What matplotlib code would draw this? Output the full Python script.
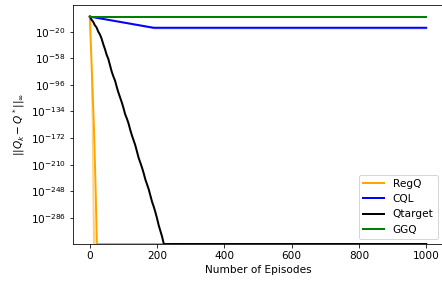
import numpy as np
import matplotlib
matplotlib.use("Agg")
import matplotlib.pyplot as plt

# log10 of ||Q_k - Q*||_inf
floor_exp = -323.3  # smallest positive double, where the curves bottom out

regq_eps = [0, 4, 8, 12, 15, 17, 21, 1000]
regq_mean = [1.4, -50, -102, -154, -205, -240, floor_exp, floor_exp]
regq_lo = [1.4, -150, floor_exp, floor_exp, floor_exp, floor_exp, floor_exp, floor_exp]
regq_hi = [1.4, -80, -170, -260, floor_exp, floor_exp, floor_exp, floor_exp]

cql_eps = [0, 190, 1000]
cql_mean = [1.4, -14.5, -14.5]
cql_lo = [1.4, -16.0, -16.0]

qt_eps = [0, 5, 10, 15, 20, 25, 30, 35, 40, 45, 50, 55, 60, 65, 70, 75, 80,
          85, 90, 95, 100, 105, 110, 115, 120, 125, 130, 135, 140, 145, 150,
          155, 160, 165, 170, 175, 180, 185, 190, 195, 200, 205, 210, 215,
          220, 1000]
qt_mean = [1.4, -3, -6, -11, -14, -20, -24, -30, -38, -45, -53, -59, -68,
           -77, -84, -90, -99, -107, -114, -121, -129, -138, -144, -151, -160,
           -168, -175, -182, -191, -200, -207, -214, -222, -231, -238, -245,
           -254, -263, -270, -278, -287, -297, -305, -313, floor_exp, floor_exp]

ggq_eps = [0, 1000]
ggq_mean = [0.8, 0.8]
ggq_lo = [-0.6, -0.6]

ytick_exps = [-286, -248, -210, -172, -134, -96, -58, -20]

plt.rcParams['font.size'] = 10.5

fig = plt.figure(figsize=(442 / 72, 284 / 72), dpi=72)
ax = fig.add_axes([73 / 442, 40 / 284, 370 / 442, 239 / 284])

p = lambda v: 10.0 ** np.array(v, dtype=float)

ax.fill_between(regq_eps, p(regq_lo), p(regq_hi), color='orange', alpha=0.5, lw=0)
ax.plot(regq_eps, p(regq_mean), color='orange', lw=2, label='RegQ')

ax.fill_between(cql_eps, p(cql_lo), p(cql_mean), color='blue', alpha=0.3, lw=0)
ax.plot(cql_eps, p(cql_mean), color='blue', lw=2, label='CQL')

ax.plot(qt_eps, p(qt_mean), color='black', lw=2, label='Qtarget')

ax.fill_between(ggq_eps, p(ggq_lo), p(ggq_mean), color='green', alpha=0.3, lw=0)
ax.plot(ggq_eps, p(ggq_mean), color='green', lw=2, label='GGQ')

ax.set_yscale('log')
ax.set_ylim(10.0 ** floor_exp, 1e18)
ax.set_xlim(-50, 1050)
ax.set_yticks(p(ytick_exps))
ax.set_yticklabels([r'$10^{%d}$' % e for e in ytick_exps])
ax.yaxis.set_minor_locator(matplotlib.ticker.NullLocator())
ax.set_xticks([0, 200, 400, 600, 800, 1000])

ax.set_xlabel('Number of Episodes')
ax.set_ylabel(r'$||Q_k - Q^*||_\infty$')
ax.legend(loc='lower right')

fig.savefig('out.png', dpi=72)
